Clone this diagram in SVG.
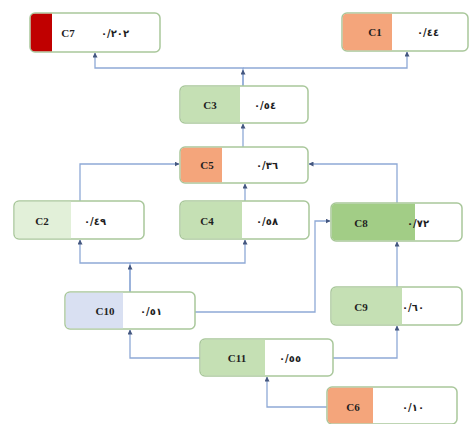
<svg xmlns="http://www.w3.org/2000/svg" width="470" height="424" viewBox="0 0 470 424">
<style>
.box{fill:#ffffff;stroke:#a9c79b;stroke-width:1.5}
.lbl{font-family:"Liberation Serif","DejaVu Serif",serif;font-weight:bold;font-size:11px;fill:#1f1f1f;text-anchor:middle;dominant-baseline:central}
.val{font-family:"DejaVu Sans","Noto Sans",sans-serif;font-weight:bold;font-size:10px;fill:#1f1f1f;text-anchor:middle;dominant-baseline:central}
.con{fill:none;stroke:#8ea9d6;stroke-width:1.3}
.red{fill:#c00000}.org{fill:#f4a57b}.grn{fill:#c5e0b4}.dgr{fill:#a2cd86}.lgr{fill:#e2f0d9}.blu{fill:#d9e0f2}
</style>
<defs>
<marker id="ah" viewBox="0 0 10 10" refX="9" refY="5" markerWidth="5" markerHeight="5" orient="auto" markerUnits="userSpaceOnUse">
<path d="M0,0 L10,5 L0,10 Z" fill="#44577f"/>
</marker>
</defs>
<rect width="470" height="424" fill="#ffffff"/>
<g id="connectors">
<path class="con" d="M243,86 V68 H95 V53" marker-end="url(#ah)"/>
<path class="con" d="M243,68 H407 V52" marker-end="url(#ah)"/>
<path class="con" d="M243,86 V70" marker-end="url(#ah)"/>
<path class="con" d="M243,147 V124" marker-end="url(#ah)"/>
<path class="con" d="M80,201 V164 H179" marker-end="url(#ah)"/>
<path class="con" d="M397,203 V164 H309" marker-end="url(#ah)"/>
<path class="con" d="M245,201 V184" marker-end="url(#ah)"/>
<path class="con" d="M130,292 V263 H80 V240" marker-end="url(#ah)"/>
<path class="con" d="M130,263 H245 V240" marker-end="url(#ah)"/>
<path class="con" d="M130,292 V265" marker-end="url(#ah)"/>
<path class="con" d="M195,312 H315 V221 H330" marker-end="url(#ah)"/>
<path class="con" d="M397,287 V242" marker-end="url(#ah)"/>
<path class="con" d="M200,358 H130 V330" marker-end="url(#ah)"/>
<path class="con" d="M333,358 H397 V326" marker-end="url(#ah)"/>
<path class="con" d="M327,407 H267 V377" marker-end="url(#ah)"/>
</g>
<g id="C7">
<rect class="box" x="30" y="13" width="130" height="39" rx="5"/>
<path class="red" d="M35,13.75 H52 V51.25 H35 Q30.75,51.25 30.75,47 V18 Q30.75,13.75 35,13.75 Z"/>
<text class="lbl" x="68" y="33">C7</text><text class="val" x="115" y="33">٠/٢٠٢</text>
</g>
<g id="C1">
<rect class="box" x="342" y="13" width="126" height="38" rx="5"/>
<path class="org" d="M347,13.75 H392 V50.25 H347 Q342.75,50.25 342.75,46 V18 Q342.75,13.75 347,13.75 Z"/>
<text class="lbl" x="375" y="32">C1</text><text class="val" x="428" y="32">٠/٤٤</text>
</g>
<g id="C3">
<rect class="box" x="180" y="86" width="128" height="37" rx="5"/>
<path class="grn" d="M185,86.75 H240 V122.25 H185 Q180.75,122.25 180.75,118 V91 Q180.75,86.75 185,86.75 Z"/>
<text class="lbl" x="210" y="105">C3</text><text class="val" x="265" y="105">٠/٥٤</text>
</g>
<g id="C5">
<rect class="box" x="180" y="147" width="128" height="36" rx="5"/>
<path class="org" d="M185,147.75 H222 V182.25 H185 Q180.75,182.25 180.75,178 V152 Q180.75,147.75 185,147.75 Z"/>
<text class="lbl" x="207" y="165">C5</text><text class="val" x="267" y="165">٠/٣٦</text>
</g>
<g id="C2">
<rect class="box" x="14" y="201" width="130" height="38" rx="5"/>
<path class="lgr" d="M19,201.75 H71 V238.25 H19 Q14.75,238.25 14.75,234 V206 Q14.75,201.75 19,201.75 Z"/>
<text class="lbl" x="42" y="221">C2</text><text class="val" x="95" y="221">٠/٤٩</text>
</g>
<g id="C4">
<rect class="box" x="180" y="201" width="129" height="38" rx="5"/>
<path class="grn" d="M185,201.75 H242 V238.25 H185 Q180.75,238.25 180.75,234 V206 Q180.75,201.75 185,201.75 Z"/>
<text class="lbl" x="207" y="221">C4</text><text class="val" x="267" y="221">٠/٥٨</text>
</g>
<g id="C8">
<rect class="box" x="331" y="203" width="131" height="38" rx="5"/>
<path class="dgr" d="M336,203.75 H415 V240.25 H336 Q331.75,240.25 331.75,236 V208 Q331.75,203.75 336,203.75 Z"/>
<text class="lbl" x="361" y="223">C8</text><text class="val" x="418" y="223">٠/٧٢</text>
</g>
<g id="C10">
<rect class="box" x="65" y="292" width="130" height="37" rx="5"/>
<path class="blu" d="M70,292.75 H123 V328.25 H70 Q65.75,328.25 65.75,324 V297 Q65.75,292.75 70,292.75 Z"/>
<text class="lbl" x="105" y="311">C10</text><text class="val" x="151" y="311">٠/٥١</text>
</g>
<g id="C9">
<rect class="box" x="331" y="287" width="131" height="38" rx="5"/>
<path class="grn" d="M336,287.75 H402 V324.25 H336 Q331.75,324.25 331.75,320 V292 Q331.75,287.75 336,287.75 Z"/>
<text class="lbl" x="361" y="307">C9</text><text class="val" x="413" y="307">٠/٦٠</text>
</g>
<g id="C11">
<rect class="box" x="200" y="339" width="133" height="37" rx="5"/>
<path class="grn" d="M205,339.75 H265 V375.25 H205 Q200.75,375.25 200.75,371 V344 Q200.75,339.75 205,339.75 Z"/>
<text class="lbl" x="237" y="358">C11</text><text class="val" x="290" y="358">٠/٥٥</text>
</g>
<g id="C6">
<rect class="box" x="327" y="387" width="130" height="37" rx="5"/>
<path class="org" d="M332,387.75 H373 V423.25 H332 Q327.75,423.25 327.75,419 V392 Q327.75,387.75 332,387.75 Z"/>
<text class="lbl" x="353" y="407">C6</text><text class="val" x="413" y="407">٠/١٠</text>
</g>
</svg>
